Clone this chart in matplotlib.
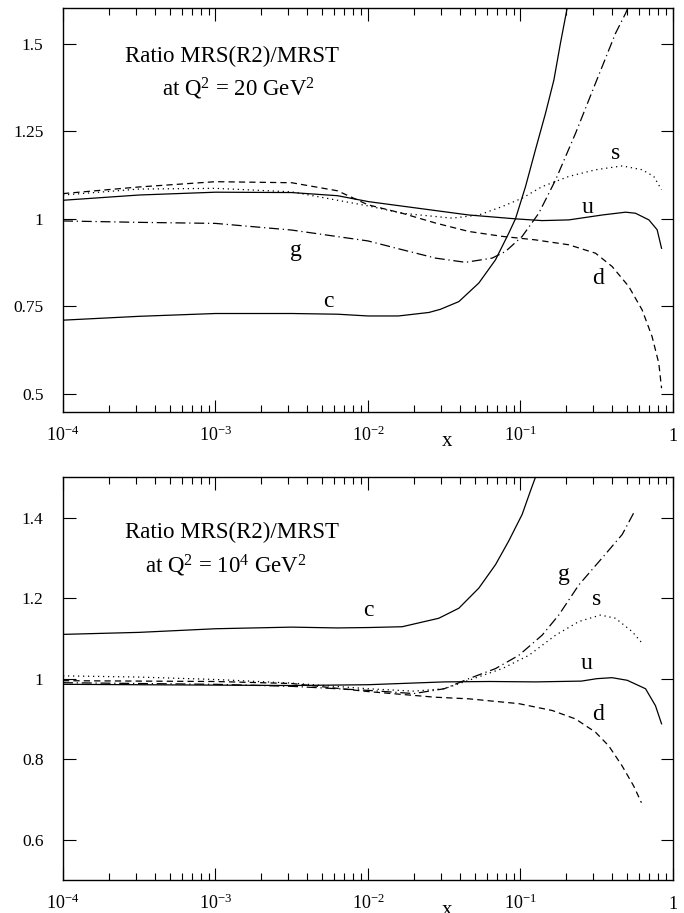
import matplotlib
matplotlib.use("Agg")
import matplotlib.pyplot as plt
import numpy as np

plt.rcParams['font.family'] = ['Liberation Serif', 'DejaVu Serif']
plt.rcParams['mathtext.fontset'] = 'custom'
plt.rcParams['mathtext.rm'] = 'Liberation Serif'
plt.rcParams['mathtext.it'] = 'Liberation Serif:italic'
plt.rcParams['mathtext.bf'] = 'Liberation Serif:bold'

# ---- Q^2 = 20 GeV^2 (top panel), x given as log10(x) ----
u20_lx = [-4, -3.5, -3, -2.5, -2.2, -1.995, -1.667, -1.339, -1.033, -0.858, -0.683, -0.464, -0.311,
          -0.246, -0.158, -0.104, -0.075]
u20 = [1.053, 1.068, 1.076, 1.075, 1.066, 1.049, 1.03, 1.011, 1.0, 0.995, 0.997, 1.011, 1.019,
       1.016, 0.997, 0.969, 0.916]

d20_lx = [-4, -3.5, -3, -2.5, -2.2, -2, -1.776, -1.557, -1.339, -1.12, -0.902, -0.683, -0.508,
          -0.399, -0.29, -0.202, -0.137, -0.093, -0.075]
d20 = [1.072, 1.091, 1.106, 1.103, 1.08, 1.04, 1.016, 0.988, 0.964, 0.95, 0.94, 0.926, 0.902,
       0.864, 0.807, 0.74, 0.664, 0.588, 0.517]

s20_lx = [-4, -3.5, -3, -2.5, -2, -1.776, -1.448, -1.273, -1.12, -0.989, -0.858, -0.683, -0.508,
          -0.333, -0.202, -0.126, -0.075]
s20 = [1.068, 1.085, 1.087, 1.077, 1.037, 1.016, 1.002, 1.011, 1.035, 1.059, 1.092, 1.121, 1.14,
       1.151, 1.14, 1.121, 1.083]

g20_lx = [-4, -3.5, -3, -2.5, -2, -1.776, -1.557, -1.361, -1.186, -1.098, -0.989, -0.88, -0.77,
          -0.639, -0.508, -0.377, -0.311, -0.295]
g20 = [0.994, 0.99, 0.987, 0.968, 0.937, 0.912, 0.888, 0.876, 0.888, 0.907, 0.95, 1.016, 1.111,
       1.244, 1.387, 1.529, 1.586, 1.602]

c20_lx = [-4, -3.5, -3, -2.5, -2.2, -2, -1.8, -1.6, -1.525, -1.404, -1.273, -1.164, -1.077,
          -1.033, -0.967, -0.902, -0.836, -0.781, -0.738, -0.694]
c20 = [0.711, 0.722, 0.73, 0.73, 0.728, 0.723, 0.723, 0.733, 0.742, 0.764, 0.817, 0.883, 0.959,
       1.0, 1.092, 1.197, 1.301, 1.396, 1.501, 1.601]

# ---- Q^2 = 10^4 GeV^2 (bottom panel) ----
u4_lx = [-4, -3.5, -3, -2.5, -2, -1.5, -1.2, -0.9, -0.6, -0.5, -0.4, -0.3, -0.18, -0.115, -0.075]
u4 = [0.986, 0.985, 0.984, 0.983, 0.985, 0.992, 0.993, 0.992, 0.994, 1.0, 1.0025, 0.996, 0.975,
      0.933, 0.888]

d4_lx = [-4, -3.5, -3, -2.5, -2, -1.56, -1.339, -1.011, -0.792, -0.639, -0.508, -0.421, -0.333,
         -0.257, -0.207]
d4 = [0.995, 0.994, 0.993, 0.988, 0.968, 0.954, 0.95, 0.938, 0.921, 0.9, 0.867, 0.833, 0.783,
      0.733, 0.692]

s4_lx = [-4, -3.5, -3, -2.5, -2, -1.7, -1.5, -1.339, -1.12, -0.945, -0.77, -0.617, -0.475, -0.377,
         -0.268, -0.202]
s4 = [1.007, 1.004, 0.998, 0.989, 0.975, 0.969, 0.975, 0.996, 1.025, 1.058, 1.108, 1.142, 1.158,
      1.15, 1.117, 1.088]

g4_lx = [-4, -3, -2.5, -2, -1.7, -1.5, -1.339, -1.164, -1.011, -0.858, -0.749, -0.617, -0.464,
         -0.333, -0.257]
g4 = [0.99, 0.986, 0.981, 0.971, 0.963, 0.975, 1.0, 1.025, 1.058, 1.108, 1.158, 1.233, 1.3, 1.358,
      1.412]

c4_lx = [-4, -3.5, -3, -2.5, -2.2, -1.995, -1.776, -1.536, -1.404, -1.273, -1.164, -1.077, -0.989,
         -0.934, -0.902]
c4 = [1.11, 1.115, 1.124, 1.128, 1.126, 1.127, 1.129, 1.15, 1.175, 1.225, 1.283, 1.342, 1.408,
      1.467, 1.5]

# curve labels: (text, log10 x, y)
labels20 = [('s', -0.377, 1.187), ('u', -0.563, 1.033), ('g', -2.475, 0.909),
            ('d', -0.49, 0.831), ('c', -2.259, 0.763)]
labels4 = [('g', -0.716, 1.258), ('s', -0.502, 1.196), ('c', -2.0, 1.169),
           ('u', -0.569, 1.037), ('d', -0.49, 0.912)]

xticks = [1e-4, 1e-3, 1e-2, 1e-1, 1]
xticklabels = [r'$10^{-4}$', r'$10^{-3}$', r'$10^{-2}$', r'$10^{-1}$', '1']

dash = dict(color='black', lw=0.9, ls=(0, (5, 3.3)))
dot = dict(color='black', lw=0.9, ls=(0, (1, 3)))
dashdot = dict(color='black', lw=0.9, ls=(0, (8, 3, 1, 3)))
solid = dict(color='black', lw=0.9, ls='-')


def draw_panel(ax, curves, labels, ylim, yticks, yticklabels, line2, line2_x, y1, y2):
    for lx, y, st in curves:
        ax.plot(10 ** np.array(lx), y, **st)
    for t, lx, y in labels:
        ax.text(10 ** lx, y, t, fontsize=17, ha='center', va='center')
    ax.set_xscale('log')
    ax.set_xlim(1e-4, 1)
    ax.set_ylim(*ylim)
    ax.set_yticks(yticks)
    ax.set_yticklabels(yticklabels)
    ax.set_xticks(xticks)
    labs = ax.set_xticklabels(xticklabels)
    for l in labs:
        l.set_va('baseline')
    ax.minorticks_on()
    ax.yaxis.set_minor_locator(matplotlib.ticker.NullLocator())
    ax.tick_params(which='both', direction='in', top=True, right=True, width=0.8)
    ax.tick_params(which='major', length=9)
    ax.tick_params(which='minor', length=5)
    ax.tick_params(axis='y', labelsize=12.5, pad=14)
    ax.tick_params(axis='x', labelsize=13, pad=21)
    for sp in ax.spines.values():
        sp.set_linewidth(1.0)
    ax.text(0.1016, y1, 'Ratio MRS(R2)/MRST', transform=ax.transAxes,
            fontsize=16.5, ha='left', va='baseline')
    ax.text(line2_x, y2, line2, transform=ax.transAxes,
            fontsize=16.5, ha='left', va='baseline')
    ax.text(0.6295, -0.075, 'x', transform=ax.transAxes, fontsize=15,
            ha='center', va='center')


fig = plt.figure(figsize=(6.84, 9.13), dpi=100)
ax1 = fig.add_axes([0.0921, 0.5491, 0.8918, 0.4416])
ax2 = fig.add_axes([0.0921, 0.0361, 0.8918, 0.4411])

draw_panel(ax1,
           [(u20_lx, u20, solid), (d20_lx, d20, dash), (s20_lx, s20, dot),
            (g20_lx, g20, dashdot), (c20_lx, c20, solid)],
           labels20, (0.45, 1.6), [0.5, 0.75, 1, 1.25, 1.5],
           ['0.5', '0.75', '1', '1.25', '1.5'],
           r'at Q$^2$ = 20 GeV$^2$', 0.1623, 0.868, 0.783)

draw_panel(ax2,
           [(u4_lx, u4, solid), (d4_lx, d4, dash), (s4_lx, s4, dot),
            (g4_lx, g4, dashdot), (c4_lx, c4, solid)],
           labels4, (0.5, 1.5), [0.6, 0.8, 1, 1.2, 1.4],
           ['0.6', '0.8', '1', '1.2', '1.4'],
           r'at Q$^2$ = 10$^4$ GeV$^2$', 0.134, 0.85, 0.762)

fig.savefig('out.png', dpi=100)
